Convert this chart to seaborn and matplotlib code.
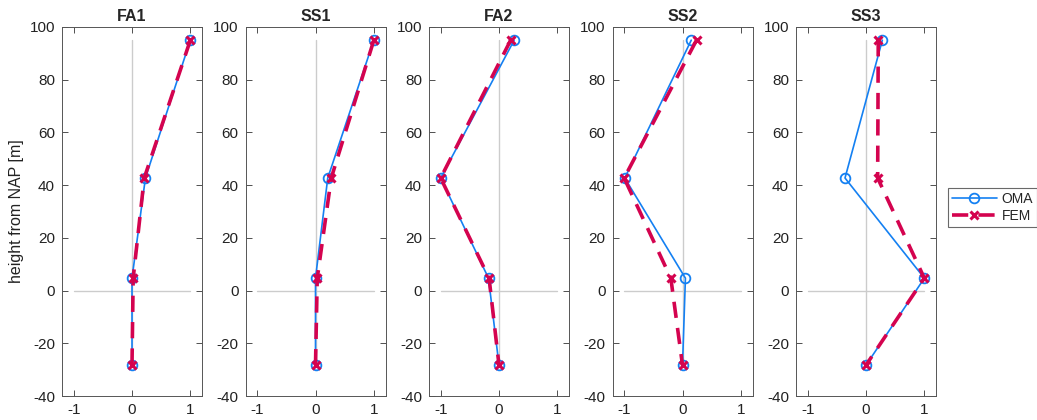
import numpy as np
import pandas as pd
import matplotlib
matplotlib.use("Agg")
import matplotlib.pyplot as plt
import seaborn as sns
from matplotlib.lines import Line2D

# ---- data ----
heights = [95.0, 42.7, 4.7, -28.3]
modes = ["FA1", "SS1", "FA2", "SS2", "SS3"]
oma_fa1 = [1.0, 0.23, 0.0, 0.0]
fem_fa1 = [1.0, 0.21, 0.02, 0.0]
oma_ss1 = [1.0, 0.21, 0.0, 0.0]
fem_ss1 = [1.0, 0.27, 0.03, 0.0]
oma_fa2 = [0.26, -1.0, -0.18, 0.0]
fem_fa2 = [0.20, -1.0, -0.17, 0.0]
oma_ss2 = [0.15, -0.99, 0.05, 0.0]
fem_ss2 = [0.24, -1.0, -0.20, 0.0]
oma_ss3 = [0.28, -0.36, 1.0, 0.0]
fem_ss3 = [0.21, 0.20, 1.0, 0.0]
oma = [oma_fa1, oma_ss1, oma_fa2, oma_ss2, oma_ss3]
fem = [fem_fa1, fem_ss1, fem_fa2, fem_ss2, fem_ss3]
xticks = [-1, 0, 1]
yticks = [-40, -20, 0, 20, 40, 60, 80, 100]

OMA_C = "#1480F2"
FEM_C = "#D4034F"
DASH = (0, (4.5, 2.8))

sns.set_style("white")
plt.rcParams["font.family"] = ["Liberation Sans", "DejaVu Sans"]

fig = plt.figure(figsize=(10.37, 4.2), dpi=100)
W, H = 1037, 420
left0, step, aw = 62, 183.5, 140
top, bot = 27, 396

for i, m in enumerate(modes):
    ax = fig.add_axes([(left0 + i * step) / W, 1 - bot / H, aw / W, (bot - top) / H])
    # reference lines
    ax.plot([0, 0], [min(heights), max(heights)], color="#cccccc", lw=1.0, zorder=1)
    ax.plot([-1, 1], [0, 0], color="#cccccc", lw=1.0, zorder=1)
    df_o = pd.DataFrame({"x": oma[i], "y": heights})
    df_f = pd.DataFrame({"x": fem[i], "y": heights})
    sns.lineplot(data=df_o, x="x", y="y", sort=False, estimator=None, ax=ax,
                 color=OMA_C, lw=1.2, marker="o", markersize=7,
                 markerfacecolor="none", markeredgecolor=OMA_C, markeredgewidth=1.3, zorder=3)
    sns.lineplot(data=df_f, x="x", y="y", sort=False, estimator=None, ax=ax,
                 color=FEM_C, lw=2.6, linestyle=DASH, marker="x", markersize=6,
                 markeredgewidth=2.2, markeredgecolor=FEM_C, zorder=4)
    ax.set_xlim(-1.2, 1.2)
    ax.set_ylim(-40, 100)
    ax.set_xticks(xticks)
    ax.set_yticks(yticks)
    ax.set_xticklabels([str(t) for t in xticks])
    ax.set_yticklabels([str(t) for t in yticks])
    ax.tick_params(direction="in", length=4, width=0.6, colors="#333333",
                   labelsize=11, labelcolor="#222222",
                   top=True, right=True, bottom=True, left=True, pad=5)
    for s in ax.spines.values():
        s.set_color("#555555")
        s.set_linewidth(0.7)
    ax.set_xlabel("")
    ax.set_ylabel("height from NAP [m]" if i == 0 else "", fontsize=11.5, color="#222222")
    ax.set_title(m, fontsize=11.5, fontweight="bold", pad=4)

handles = [
    Line2D([0], [0], color=OMA_C, lw=1.2, marker="o", markersize=7,
           markerfacecolor="none", markeredgecolor=OMA_C, markeredgewidth=1.3),
    Line2D([0], [0], color=FEM_C, lw=2.6, linestyle=DASH, marker="x",
           markersize=6, markeredgewidth=2.2),
]
leg = fig.legend(handles, ["OMA", "FEM"], loc="center left",
                 bbox_to_anchor=(948 / W, 1 - 207.5 / H), frameon=True, fancybox=False,
                 fontsize=10, handlelength=3.2, borderpad=0.3, labelspacing=0.2,
                 handletextpad=0.35, borderaxespad=0)
leg.get_frame().set_edgecolor("#444444")
leg.get_frame().set_linewidth(0.8)

fig.savefig("out.png", dpi=100)
